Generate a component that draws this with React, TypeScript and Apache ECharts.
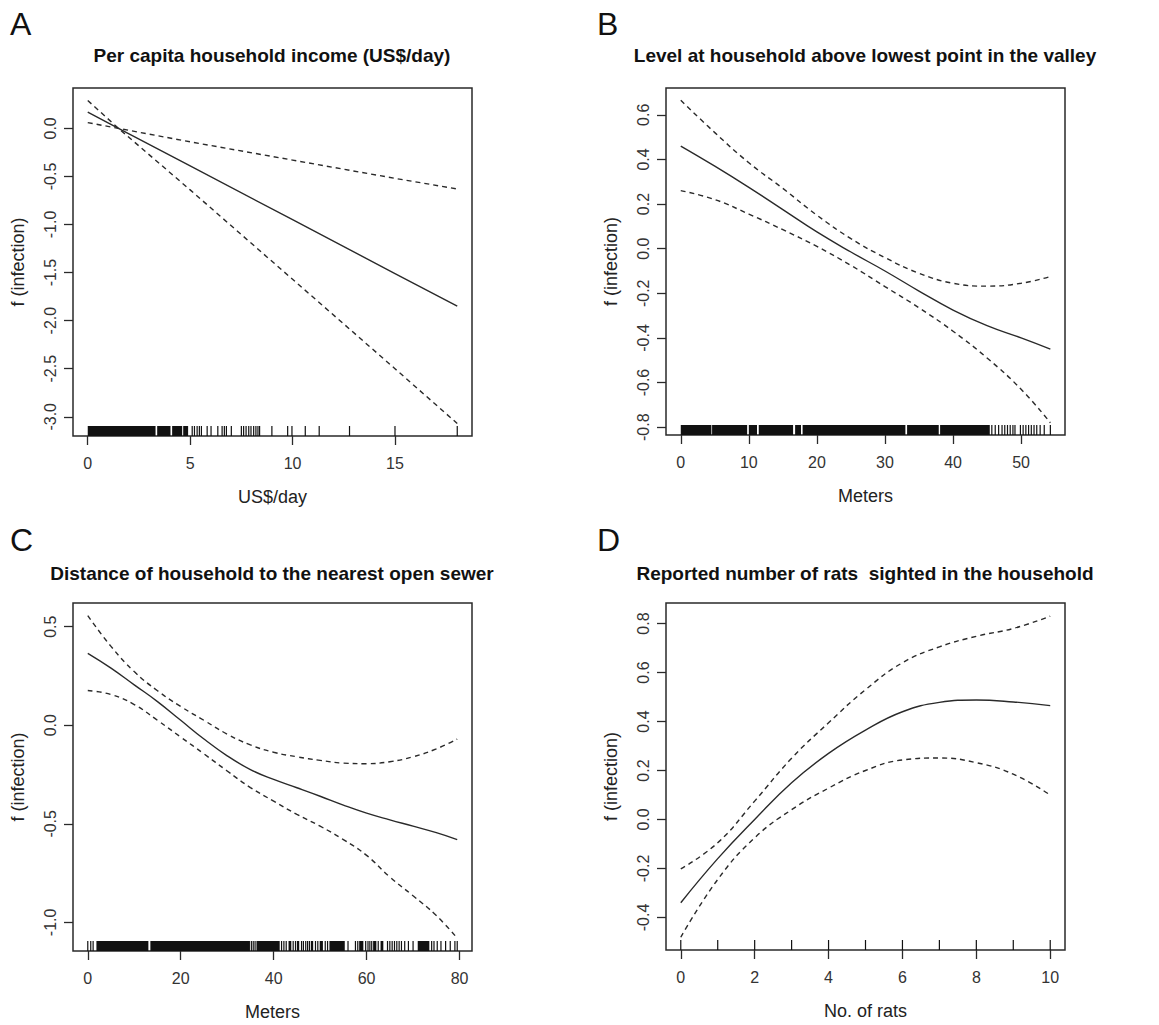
import React, { useEffect, useRef } from "react";
import * as echarts from "echarts";

// ---------- data ----------
// Panel A: per capita household income
const xA = [0, 1.5, 5, 10, 15, 18.04];
const fitA = [0.17, 0.0, -0.39, -0.95, -1.51, -1.85];
const upA = [0.06, 0.0, -0.14, -0.33, -0.52, -0.63];
const loA = [0.29, 0.0, -0.64, -1.57, -2.5, -3.07];
const rugBlocksA = [[0, 3.31], [3.39, 4.04], [4.12, 4.61], [4.66, 4.9]];
const rugTicksA = [5.1, 5.21, 5.34, 5.45, 5.55, 5.83, 6.02, 6.35, 6.56, 6.67, 6.77, 7.01, 7.5, 7.61, 7.73, 7.86, 7.97, 8.1, 8.21, 8.31, 8.39, 8.99, 9.76, 9.97, 10.62, 11.3, 12.78, 15.0, 18.04];
const xTicksA = [0, 5, 10, 15];
const yTicksA = [-3, -2.5, -2, -1.5, -1, -0.5, 0];

// Panel B: level above lowest point in the valley
const xB = [0, 5, 10, 15, 20, 25, 30, 35, 40, 45, 50, 54.3];
const fitB = [0.46, 0.37, 0.275, 0.175, 0.075, -0.015, -0.1, -0.19, -0.275, -0.345, -0.4, -0.45];
const upB = [0.665, 0.52, 0.385, 0.27, 0.15, 0.045, -0.04, -0.11, -0.155, -0.168, -0.155, -0.125];
const loB = [0.26, 0.22, 0.155, 0.085, 0.01, -0.075, -0.17, -0.265, -0.37, -0.49, -0.63, -0.78];
const rugBlocksB = [[0, 4.5], [4.6, 9.75], [10.0, 11.2], [11.46, 16.5], [16.8, 17.66], [17.9, 33.0], [33.25, 37.9], [38.1, 45.4]];
const rugTicksB = [45.7, 46.2, 46.7, 47.2, 47.6, 48.0, 48.4, 48.8, 49.1, 49.9, 50.3, 50.7, 51.1, 51.5, 51.9, 52.3, 52.8, 53.4, 54.3];
const xTicksB = [0, 10, 20, 30, 40, 50];
const yTicksB = [-0.8, -0.6, -0.4, -0.2, 0, 0.2, 0.4, 0.6];

// Panel C: distance to nearest open sewer
const xC = [0, 5, 10, 15, 20, 25, 30, 35, 40, 45, 50, 55, 60, 65, 70, 75, 79.5];
const fitC = [0.365, 0.29, 0.205, 0.12, 0.025, -0.07, -0.155, -0.225, -0.275, -0.317, -0.36, -0.405, -0.446, -0.48, -0.512, -0.545, -0.58];
const upC = [0.556, 0.4, 0.272, 0.175, 0.095, 0.025, -0.045, -0.1, -0.137, -0.16, -0.178, -0.192, -0.195, -0.185, -0.16, -0.12, -0.07];
const loC = [0.176, 0.156, 0.105, 0.025, -0.06, -0.145, -0.232, -0.316, -0.385, -0.452, -0.512, -0.58, -0.66, -0.77, -0.865, -0.965, -1.08];
const rugBlocksC = [[1.86, 13.04], [13.47, 34.9], [36.3, 41.3], [43.2, 43.8], [45.0, 45.5], [48.0, 48.5], [49.9, 50.6], [52.0, 55.3], [58.4, 59.3], [61.4, 62.1], [63.0, 63.6], [71.0, 73.5]];
const rugTicksC = [0, 0.64, 1.15, 35.2, 35.6, 36.0, 41.7, 42.2, 42.7, 44.2, 44.7, 46.0, 46.4, 46.9, 47.3, 47.7, 49.0, 49.5, 51.1, 51.6, 56.0, 57.6, 58.1, 59.8, 60.3, 60.7, 61.1, 62.5, 64.5, 65.0, 65.5, 66.0, 66.5, 67.0, 67.5, 68.2, 69.0, 70.0, 74.0, 74.5, 75.2, 76.0, 77.0, 78.0, 79.0, 79.5];
const xTicksC = [0, 20, 40, 60, 80];
const yTicksC = [-1, -0.5, 0, 0.5];

// Panel D: reported number of rats
const xD = [0, 1, 2, 3, 4, 5, 6, 7, 8, 9, 10];
const fitD = [-0.34, -0.16, 0.0, 0.15, 0.27, 0.365, 0.44, 0.478, 0.488, 0.48, 0.465];
const upD = [-0.202, -0.095, 0.075, 0.25, 0.395, 0.53, 0.64, 0.705, 0.748, 0.78, 0.83];
const loD = [-0.481, -0.245, -0.075, 0.04, 0.128, 0.2, 0.243, 0.251, 0.232, 0.185, 0.1];
const rugBlocksD: number[][] = [];
const rugTicksD = [0, 1, 2, 3, 4, 5, 6, 7, 8, 9, 10];
const xTicksD = [0, 2, 4, 6, 8, 10];
const yTicksD = [-0.4, -0.2, 0, 0.2, 0.4, 0.6, 0.8];

const letters = ["A", "B", "C", "D"];
const titles = [
  "Per capita household income (US$/day)",
  "Level at household above lowest point in the valley",
  "Distance of household to the nearest open sewer",
  "Reported number of rats  sighted in the household",
];
const xNames = ["US$/day", "Meters", "Meters", "No. of rats"];
const yName = "f (infection)";

// ---------- layout ----------
const FONT = '"Liberation Sans", Arial, Helvetica, sans-serif';
const INK = "#2a2a2a";
const panels = [
  { x: xA, fit: fitA, up: upA, lo: loA, blocks: rugBlocksA, ticks: rugTicksA, xt: xTicksA, yt: yTicksA, xr: [-0.72, 18.76], yr: [-3.2, 0.42], grid: { left: 73, top: 88, width: 399, height: 348 }, letter: [10, 24], title: [272, 55], smooth: 0 },
  { x: xB, fit: fitB, up: upB, lo: loB, blocks: rugBlocksB, ticks: rugTicksB, xt: xTicksB, yt: yTicksB, xr: [-2.17, 56.45], yr: [-0.835, 0.72], grid: { left: 666, top: 88, width: 399, height: 347 }, letter: [597, 24], title: [865, 55], smooth: 0.45 },
  { x: xC, fit: fitC, up: upC, lo: loC, blocks: rugBlocksC, ticks: rugTicksC, xt: xTicksC, yt: yTicksC, xr: [-3.18, 82.68], yr: [-1.145, 0.62], grid: { left: 73, top: 603, width: 399, height: 348 }, letter: [10, 540], title: [272, 573], smooth: 0.45 },
  { x: xD, fit: fitD, up: upD, lo: loD, blocks: rugBlocksD, ticks: rugTicksD, xt: xTicksD, yt: yTicksD, xr: [-0.4, 10.4], yr: [-0.533, 0.884], grid: { left: 666, top: 603, width: 399, height: 347 }, letter: [597, 540], title: [865, 573], smooth: 0.45 },
];

const RUG = 10;

function zip(xs: number[], ys: number[]) {
  return xs.map((v, i) => [v, ys[i]]);
}

function buildOption() {
  const grid: any[] = [];
  const xAxis: any[] = [];
  const yAxis: any[] = [];
  const series: any[] = [];
  const graphic: any[] = [];

  panels.forEach((p, i) => {
    grid.push({ ...p.grid, show: true, borderColor: INK, borderWidth: 1.5, backgroundColor: "transparent", containLabel: false, outerBoundsMode: "none" });
    xAxis.push({
      type: "value",
      gridIndex: i,
      position: "bottom",
      min: p.xr[0],
      max: p.xr[1],
      name: xNames[i],
      nameLocation: "middle",
      nameGap: 52,
      nameMoveOverlap: false,
      nameTextStyle: { fontFamily: FONT, fontSize: 18, color: "#222" },
      axisLine: { show: false, onZero: false },
      splitLine: { show: false },
      axisTick: { show: true, length: 9, inside: false, customValues: p.xt, lineStyle: { color: INK, width: 1.3 } },
      axisLabel: { show: true, margin: 19, customValues: p.xt, fontFamily: FONT, fontSize: 16, color: "#333", formatter: (v: number) => String(v) },
    });
    yAxis.push({
      type: "value",
      gridIndex: i,
      position: "left",
      min: p.yr[0],
      max: p.yr[1],
      name: yName,
      nameLocation: "middle",
      nameGap: 46,
      nameMoveOverlap: false,
      nameTextStyle: { fontFamily: FONT, fontSize: 18, color: "#222" },
      axisLine: { show: false, onZero: false },
      splitLine: { show: false },
      axisTick: { show: true, length: 9, inside: false, customValues: p.yt, lineStyle: { color: INK, width: 1.3 } },
      axisLabel: { show: true, margin: 15, rotate: 90, customValues: p.yt, fontFamily: FONT, fontSize: 16, color: "#333", formatter: (v: number) => v.toFixed(1) },
    });

    const common = { xAxisIndex: i, yAxisIndex: i, type: "line", showSymbol: false, symbol: "none", smooth: p.smooth, silent: true };
    series.push({ ...common, name: "fit" + letters[i], data: zip(p.x, p.fit), lineStyle: { color: INK, width: 1.4 } });
    series.push({ ...common, name: "upper" + letters[i], data: zip(p.x, p.up), lineStyle: { color: INK, width: 1.4, type: [5, 4] } });
    series.push({ ...common, name: "lower" + letters[i], data: zip(p.x, p.lo), lineStyle: { color: INK, width: 1.4, type: [5, 4] } });

    series.push({
      type: "custom",
      name: "rugBlocks" + letters[i],
      xAxisIndex: i,
      yAxisIndex: i,
      silent: true,
      encode: { x: [0, 1] },
      data: p.blocks.map((b) => [b[0], b[1]]),
      renderItem: (params: any, api: any) => {
        const cs = params.coordSys;
        const bottom = cs.y + cs.height;
        const x0 = api.coord([api.value(0), 0])[0];
        const x1 = api.coord([api.value(1), 0])[0];
        return { type: "rect", shape: { x: x0, y: bottom - RUG, width: Math.max(x1 - x0, 1), height: RUG }, style: { fill: "#111" } };
      },
    });
    series.push({
      type: "custom",
      name: "rugTicks" + letters[i],
      xAxisIndex: i,
      yAxisIndex: i,
      silent: true,
      encode: { x: 0 },
      data: p.ticks.map((t) => [t, 0]),
      renderItem: (params: any, api: any) => {
        const cs = params.coordSys;
        const bottom = cs.y + cs.height;
        const x = api.coord([api.value(0), 0])[0];
        return { type: "line", shape: { x1: x, y1: bottom, x2: x, y2: bottom - RUG }, style: { stroke: "#111", lineWidth: 1.2 } };
      },
    });

    graphic.push({ type: "text", x: p.letter[0], y: p.letter[1], style: { text: letters[i], font: `32px ${FONT}`, fill: "#111", textVerticalAlign: "middle" } });
    graphic.push({ type: "text", x: p.title[0], y: p.title[1], style: { text: titles[i], font: `bold 19px ${FONT}`, fill: "#111", textAlign: "center", textVerticalAlign: "middle" } });
  });

  return { animation: false, backgroundColor: "#fff", grid, xAxis, yAxis, series, graphic };
}

export default function App() {
  const ref = useRef<HTMLDivElement>(null);
  useEffect(() => {
    if (!ref.current) return;
    const chart = echarts.init(ref.current, undefined, { renderer: "svg" });
    chart.setOption(buildOption() as any);
    return () => chart.dispose();
  }, []);
  return <div ref={ref} style={{ position: "fixed", left: 0, top: 0, width: 1159, height: 1025, background: "#fff" }} />;
}
